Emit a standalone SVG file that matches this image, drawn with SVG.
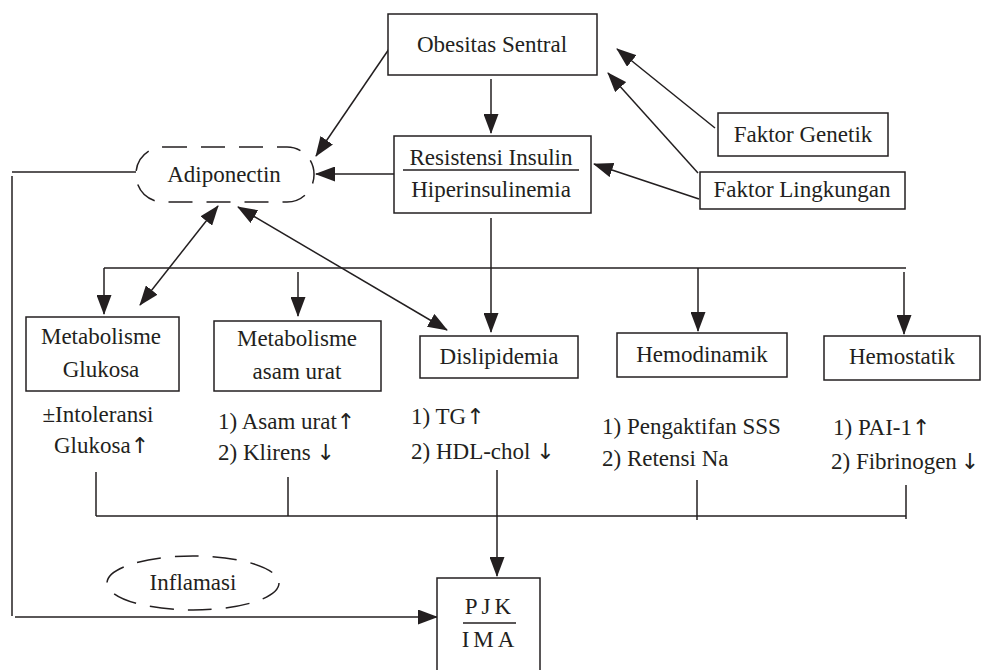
<svg xmlns="http://www.w3.org/2000/svg" width="981" height="670" viewBox="0 0 981 670">
<style>
text{font-family:"Liberation Serif","DejaVu Serif",serif;font-size:23px;fill:#231f20}
.c{text-anchor:middle}
.ar{font-family:"DejaVu Sans","Liberation Sans",sans-serif;font-size:22px;fill:#231f20}
.box{fill:#fff;stroke:#231f20;stroke-width:1.5}
.dash{fill:none;stroke:#231f20;stroke-width:1.5;stroke-dasharray:24 14}
.ln{fill:none;stroke:#231f20;stroke-width:1.5}
</style>
<defs>
<marker id="ah" markerUnits="userSpaceOnUse" markerWidth="20" markerHeight="15" refX="19" refY="7.5" orient="auto-start-reverse">
<path d="M0,0 L20,7.5 L0,15 z" fill="#231f20"/>
</marker>
</defs>
<rect width="981" height="670" fill="#fff"/>

<g id="connectors">
<line class="ln" x1="491" y1="79" x2="491" y2="133" marker-end="url(#ah)"/>
<line class="ln" x1="389" y1="49" x2="316" y2="156" marker-end="url(#ah)"/>
<line class="ln" x1="394" y1="174" x2="316" y2="174" marker-end="url(#ah)"/>
<line class="ln" x1="715" y1="128" x2="617" y2="49" marker-end="url(#ah)"/>
<line class="ln" x1="698" y1="173" x2="608" y2="73" marker-end="url(#ah)"/>
<line class="ln" x1="699" y1="199" x2="594" y2="164" marker-end="url(#ah)"/>
<polyline class="ln" points="136,172 12,172"/>
<polyline class="ln" points="12,176 12,616"/>
<line class="ln" x1="15" y1="617" x2="437" y2="617" marker-end="url(#ah)"/>
<line class="ln" x1="104" y1="268" x2="906" y2="268"/>
<line class="ln" x1="104" y1="268" x2="104" y2="314" marker-end="url(#ah)"/>
<line class="ln" x1="298" y1="272" x2="298" y2="316" marker-end="url(#ah)"/>
<line class="ln" x1="491" y1="218" x2="491" y2="332" marker-end="url(#ah)"/>
<line class="ln" x1="698" y1="268" x2="698" y2="331" marker-end="url(#ah)"/>
<line class="ln" x1="904" y1="272" x2="904" y2="334" marker-end="url(#ah)"/>
<line class="ln" x1="218" y1="206" x2="140" y2="305" marker-start="url(#ah)" marker-end="url(#ah)"/>
<line class="ln" x1="238" y1="207" x2="447" y2="330" marker-start="url(#ah)" marker-end="url(#ah)"/>
<line class="ln" x1="96" y1="516" x2="906" y2="516"/>
<line class="ln" x1="96" y1="472" x2="96" y2="516"/>
<line class="ln" x1="288" y1="477" x2="288" y2="516"/>
<line class="ln" x1="697" y1="480" x2="697" y2="520"/>
<line class="ln" x1="906" y1="485" x2="906" y2="519"/>
<line class="ln" x1="497" y1="470" x2="497" y2="576" marker-end="url(#ah)"/>
</g>

<g id="obesitas">
<rect class="box" x="388" y="14" width="209" height="61"/>
<text class="c" x="492" y="52">Obesitas Sentral</text>
</g>
<g id="resistensi">
<rect class="box" x="394" y="136" width="197" height="77"/>
<text class="c" x="491" y="165">Resistensi Insulin</text>
<line class="ln" x1="403" y1="170" x2="579" y2="170"/>
<text class="c" x="491" y="197">Hiperinsulinemia</text>
</g>
<g id="adiponectin">
<rect class="dash" x="136" y="147" width="178" height="55" rx="27" ry="27"/>
<text class="c" x="224" y="182">Adiponectin</text>
</g>
<g id="genetik">
<rect class="box" x="718" y="113" width="170" height="43"/>
<text class="c" x="803" y="142">Faktor Genetik</text>
</g>
<g id="lingkungan">
<rect class="box" x="700" y="172" width="205" height="37"/>
<text class="c" x="802" y="197">Faktor Lingkungan</text>
</g>
<g id="glukosa">
<rect class="box" x="26" y="317" width="153" height="74"/>
<text class="c" x="101" y="344">Metabolisme</text>
<text class="c" x="101" y="377">Glukosa</text>
<text class="c" x="98" y="422">±Intoleransi</text>
<text x="54" y="453">Glukosa<tspan class="ar">↑</tspan></text>
</g>
<g id="asamurat">
<rect class="box" x="214" y="321" width="167" height="70"/>
<text class="c" x="297" y="346">Metabolisme</text>
<text class="c" x="297" y="379">asam urat</text>
<text x="218" y="429">1) Asam urat<tspan class="ar">↑</tspan></text>
<text x="218" y="460">2) Klirens <tspan class="ar">↓</tspan></text>
</g>
<g id="dislipidemia">
<rect class="box" x="420" y="336" width="158" height="42"/>
<text class="c" x="499" y="364">Dislipidemia</text>
<text x="411" y="424">1) TG<tspan class="ar">↑</tspan></text>
<text x="411" y="459">2) HDL-chol <tspan class="ar">↓</tspan></text>
</g>
<g id="hemodinamik">
<rect class="box" x="617" y="333" width="170" height="44"/>
<text class="c" x="702" y="362">Hemodinamik</text>
<text x="602" y="434">1) Pengaktifan SSS</text>
<text x="602" y="466">2) Retensi Na</text>
</g>
<g id="hemostatik">
<rect class="box" x="824" y="336" width="156" height="44"/>
<text class="c" x="902" y="364">Hemostatik</text>
<text x="833" y="435">1) PAI-1<tspan class="ar">↑</tspan></text>
<text x="831" y="469">2) Fibrinogen<tspan class="ar" dx="4">↓</tspan></text>
</g>
<g id="inflamasi">
<ellipse class="dash" cx="193" cy="583" rx="86" ry="27"/>
<text class="c" x="193" y="590">Inflamasi</text>
</g>
<g id="pjk">
<rect class="box" x="437" y="578" width="103" height="100"/>
<text class="c" x="490" y="614" style="letter-spacing:4px">PJK</text>
<line class="ln" x1="463" y1="623" x2="516" y2="623"/>
<text class="c" x="490" y="647" style="letter-spacing:4px">IMA</text>
</g>
</svg>
